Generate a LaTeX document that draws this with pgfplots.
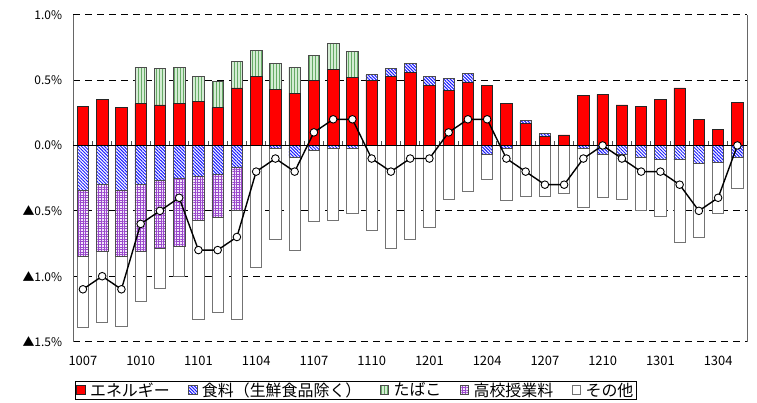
\documentclass[border=0pt]{standalone}
\usepackage{fontspec}
\setmainfont{Noto Sans CJK JP}
\usepackage{pgfplots}
\pgfplotsset{compat=1.18}
\usepackage{pgfplotstable}
\usetikzlibrary{patterns,patterns.meta}

\definecolor{enred}{HTML}{FF0000}
\definecolor{foodblue}{HTML}{1A1AFF}
\definecolor{tobgreen}{HTML}{66AA66}
\definecolor{tobbg}{HTML}{D4ECD4}
\definecolor{tuipur}{HTML}{9A48CC}
\definecolor{tuibg}{HTML}{F2E6FA}

\tikzset{
  enstyle/.style={fill=enred, draw=black!85, line width=0.7bp},
  foodstyle/.style={fill=white, draw=black!70, line width=0.7bp,
    postaction={pattern={Lines[angle=-45,distance=2.3bp,line width=1.0bp]}, pattern color=foodblue}},
  tobstyle/.style={fill=tobbg, draw=black!70, line width=0.7bp,
    postaction={pattern={Lines[angle=90,distance=3bp,line width=1.0bp]}, pattern color=tobgreen}},
  tuistyle/.style={fill=tuibg, draw=black!70, line width=0.7bp,
    postaction={pattern={Hatch[angle=0,distance=2.6bp,line width=0.9bp]}, pattern color=tuipur}},
  othstyle/.style={fill=white, draw=black!55, line width=0.8bp},
}

\pgfplotstableread{
x  e     fp    t     fn     tu     o      line
0  0.30  0     0     -0.34  -0.51  -0.54  -1.1
1  0.35  0     0     -0.30  -0.51  -0.54  -1.0
2  0.29  0     0     -0.34  -0.51  -0.53  -1.1
3  0.32  0     0.28  -0.30  -0.51  -0.38  -0.6
4  0.31  0     0.28  -0.27  -0.52  -0.30  -0.5
5  0.32  0     0.28  -0.25  -0.52  -0.23  -0.4
6  0.34  0     0.19  -0.24  -0.33  -0.76  -0.8
7  0.29  0     0.20  -0.22  -0.33  -0.73  -0.8
8  0.44  0     0.20  -0.17  -0.33  -0.83  -0.7
9  0.53  0     0.20  0      0      -0.93  -0.2
10 0.43  0     0.20  -0.02  0      -0.70  -0.1
11 0.40  0     0.20  -0.09  0      -0.71  -0.2
12 0.50  0     0.19  -0.04  0      -0.54  0.1
13 0.58  0     0.20  -0.02  0      -0.55  0.2
14 0.52  0     0.20  -0.02  0      -0.50  0.2
15 0.50  0.04  0     0      0      -0.65  -0.1
16 0.53  0.06  0     0      0      -0.79  -0.2
17 0.56  0.07  0     0      0      -0.72  -0.1
18 0.46  0.07  0     0      0      -0.63  -0.1
19 0.42  0.09  0     0      0      -0.41  0.1
20 0.48  0.07  0     0      0      -0.35  0.2
21 0.46  0     0     -0.07  0      -0.19  0.2
22 0.32  0     0     -0.02  0      -0.40  -0.1
23 0.17  0.02  0     0      0      -0.39  -0.2
24 0.07  0.02  0     0      0      -0.39  -0.3
25 0.08  0     0     0      0      -0.37  -0.3
26 0.38  0     0     -0.02  0      -0.45  -0.1
27 0.39  0     0     -0.07  0      -0.33  0.0
28 0.31  0     0     -0.07  0      -0.34  -0.1
29 0.30  0     0     -0.09  0      -0.41  -0.2
30 0.35  0     0     -0.11  0      -0.43  -0.2
31 0.44  0     0     -0.11  0      -0.63  -0.3
32 0.20  0     0     -0.14  0      -0.56  -0.5
33 0.12  0     0     -0.13  0      -0.39  -0.4
34 0.33  0     0     -0.09  0      -0.24  0.0
}\datatable

\begin{document}
\begin{tikzpicture}
\begin{axis}[
  scale only axis, width=673.7bp, height=326.9bp,
  ybar stacked, stack negative=separate, bar width=11.4bp,
  xmin=-0.5, xmax=34.5, ymin=-1.5, ymax=1.0,
  xtick={0,3,...,33},
  xticklabels={1007,1010,1101,1104,1107,1110,1201,1204,1207,1210,1301,1304},
  ytick={-1.5,-1,-0.5,0,0.5,1},
  yticklabels={▲1.5\%,▲1.0\%,▲0.5\%,0.0\%,0.5\%,1.0\%},
  major tick length=0pt,
  ymajorgrids, grid style={black, dash pattern=on 7bp off 5bp, line width=0.7bp},
  separate axis lines,
  x axis line style={draw=none},
  y axis line style={black!60, line width=0.8bp},
  xticklabel style={font=\fontsize{13}{13}\selectfont, inner sep=0pt, anchor=north, yshift=-14bp},
  yticklabel style={font=\fontsize{12}{12}\selectfont, inner sep=0pt, anchor=east, xshift=-11bp},
  legend columns=5,
  legend image code/.code={\draw[#1] (0bp,-4bp) rectangle (8.5bp,4.5bp);},
  legend style={at={(axis description cs:0.0025,-0.1195)}, anchor=north west,
    draw=black, line width=0.8bp, inner sep=1bp,
    font=\fontsize{16}{16}\selectfont,
    nodes={inner xsep=1.5bp, inner ysep=0.5bp},
    /tikz/every odd column/.append style={column sep=3bp},
    /tikz/every even column/.append style={column sep=17bp}},
]
\addlegendimage{enstyle}\addlegendentry{エネルギー}
\addlegendimage{foodstyle}\addlegendentry{食料（生鮮食品除く）}
\addlegendimage{tobstyle}\addlegendentry{たばこ}
\addlegendimage{tuistyle}\addlegendentry{高校授業料}
\addlegendimage{othstyle}\addlegendentry{その他}

\addplot[enstyle] table[x=x, y=e] {\datatable};
\addplot[foodstyle] table[x=x, y=fp] {\datatable};
\addplot[tobstyle] table[x=x, y=t] {\datatable};
\addplot[foodstyle] table[x=x, y=fn] {\datatable};
\addplot[tuistyle] table[x=x, y=tu] {\datatable};
\addplot[othstyle] table[x=x, y=o] {\datatable};

\node[font=\fontsize{14}{14}\selectfont] at (axis description cs:0.96,-0.157) {(年・月)};
\end{axis}

\begin{axis}[
  scale only axis, width=673.7bp, height=326.9bp,
  xmin=-0.5, xmax=34.5, ymin=-1.5, ymax=1.0,
  axis x line=middle, axis y line=none,
  x axis line style={-, black, line width=0.9bp},
  xtick={-0.5,0.5,...,34.5}, xticklabels={}, ytick=\empty,
  major tick length=4bp, tick align=inside,
  x tick style={black!70, line width=0.6bp},
]
\addplot[black, line width=1.4bp, mark=*, mark size=3.8bp,
  mark options={fill=white, draw=black, line width=0.9bp}]
  table[x=x, y=line] {\datatable};
\end{axis}

\pgfresetboundingbox
\path[use as bounding box] (-73.3bp,-61.4bp) rectangle (683.7bp,341.6bp);
\end{tikzpicture}
\end{document}
